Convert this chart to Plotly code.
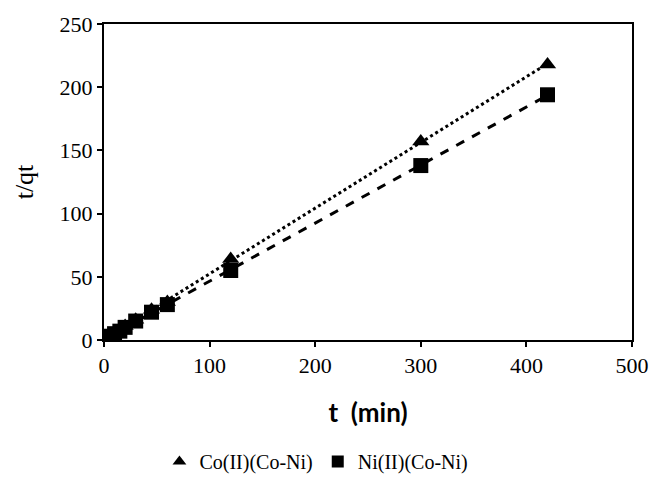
import numpy as np
import plotly.graph_objects as go

t_min = [5, 10, 15, 20, 30, 45, 60, 120, 300, 420]
co_tqt = [3, 5.5, 8, 11, 16, 24, 30, 64, 157, 218]
ni_tqt = [3, 5, 7, 10, 15, 22, 28, 55, 138, 194]

x_ticks = [0, 100, 200, 300, 400, 500]
y_ticks = [0, 50, 100, 150, 200, 250]

series = [
    ("Co(II)(Co-Ni)", co_tqt, "triangle-up", "dot"),
    ("Ni(II)(Co-Ni)", ni_tqt, "square", "dash"),
]

SERIF = "Liberation Serif"

fig = go.Figure()
tx = np.array([min(t_min), max(t_min)], dtype=float)
for name, vals, sym, dash in series:
    k, b = np.polyfit(t_min, vals, 1)
    fig.add_trace(go.Scatter(x=tx, y=k * tx + b, mode="lines",
                             line=dict(color="black", width=3, dash=dash),
                             showlegend=False, hoverinfo="skip"))
for name, vals, sym, dash in series:
    fig.add_trace(go.Scatter(x=t_min, y=vals, mode="markers", name=name,
                             marker=dict(symbol=sym, size=15, color="black")))

axis_common = dict(showgrid=False, zeroline=False, showline=True, linecolor="black",
                   linewidth=2, mirror=True, ticks="outside", tickcolor="black",
                   ticklen=5, tickwidth=2, automargin=False,
                   tickfont=dict(family=SERIF, size=22, color="black"))

fig.update_xaxes(range=[0, 500], tickmode="array", tickvals=x_ticks, **axis_common,
                 title=dict(text="t  (min)", standoff=26,
                            font=dict(family="Lato", size=26, color="black", weight="bold")))
fig.update_yaxes(range=[0, 250], tickmode="array", tickvals=y_ticks, **axis_common,
                 title=dict(text="t/qt", standoff=18,
                            font=dict(family=SERIF, size=26, color="black")))

fig.update_layout(
    template="simple_white",
    width=652, height=481,
    font=dict(family=SERIF, color="black"),
    margin=dict(l=104, r=20, t=24, b=141, autoexpand=False),
    plot_bgcolor="white", paper_bgcolor="white",
    legend=dict(orientation="h", x=0.105, xanchor="left", y=-0.446, yanchor="bottom",
                font=dict(family=SERIF, size=20, color="black"),
                itemwidth=30, tracegroupgap=0, itemsizing="constant"),
)

fig.write_html("out.html")
